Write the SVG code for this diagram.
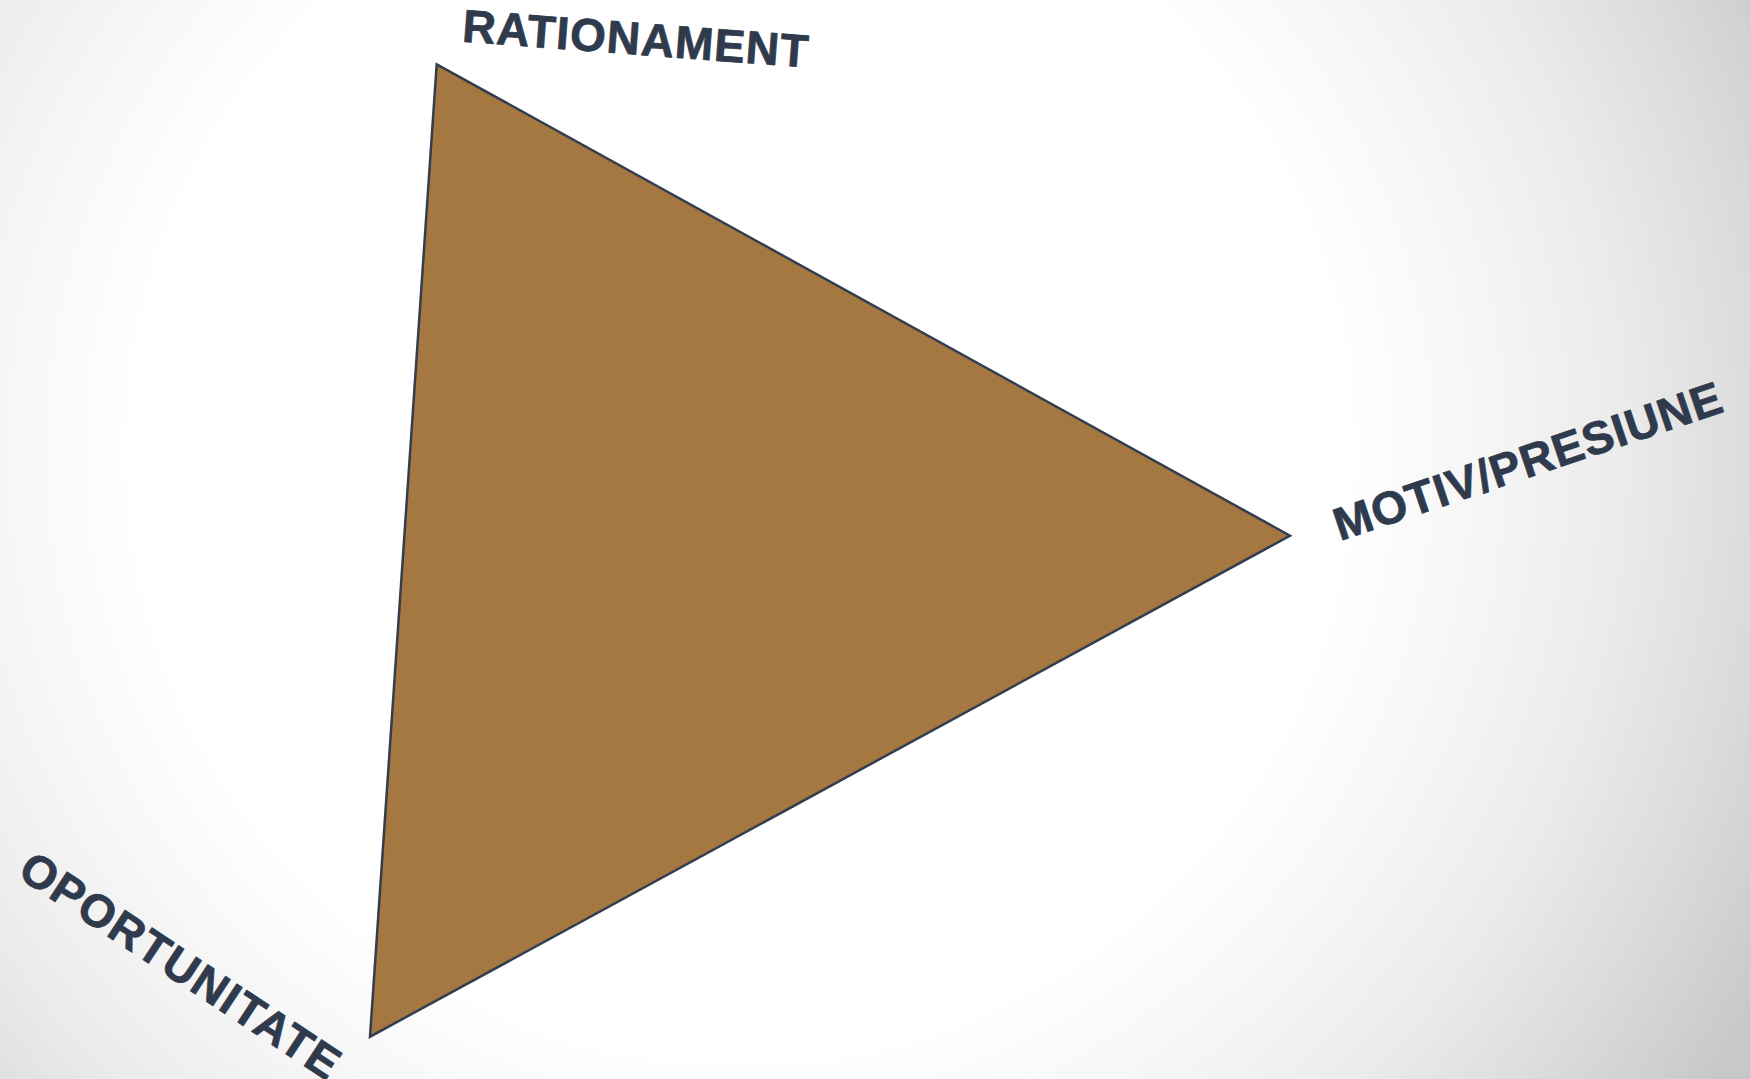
<svg xmlns="http://www.w3.org/2000/svg" width="1750" height="1079" viewBox="0 0 1750 1079">
<defs>
<radialGradient id="bg" gradientUnits="userSpaceOnUse" cx="740" cy="450" r="1160">
<stop offset="0" stop-color="#ffffff"/>
<stop offset="0.52" stop-color="#ffffff"/>
<stop offset="0.64" stop-color="#f6f6f6"/>
<stop offset="0.76" stop-color="#ebebeb"/>
<stop offset="0.87" stop-color="#dcdcdc"/>
<stop offset="1" stop-color="#c8c8c8"/>
</radialGradient>
</defs>
<style>
.lbl{font-family:"Liberation Sans",Arial,sans-serif;font-weight:bold;font-size:46px;letter-spacing:1px;fill:#2f3b4d;stroke:#2f3b4d;stroke-width:0.8px;stroke-linejoin:round}
.tri{fill:#a57842;stroke:#333d4d;stroke-width:2.5;stroke-linejoin:miter}
</style>
<rect x="0" y="0" width="1750" height="1079" fill="url(#bg)"/>
<g id="triangle">
<polygon class="tri" points="436.7,64.3 1290,535.7 370,1036.7"/>
</g>
<g id="connectors"/>
<g id="label-rationament">
<text class="lbl" transform="translate(461.5,41.5) rotate(4.3)">RATIONAMENT</text>
</g>
<g id="label-motiv">
<text class="lbl" transform="translate(1340,541) rotate(-18.6)">MOTIV/PRESIUNE</text>
</g>
<g id="label-oportunitate">
<text class="lbl" style="letter-spacing:1.5px" transform="translate(16,876) rotate(33.4)">OPORTUNITATE</text>
</g>
</svg>
